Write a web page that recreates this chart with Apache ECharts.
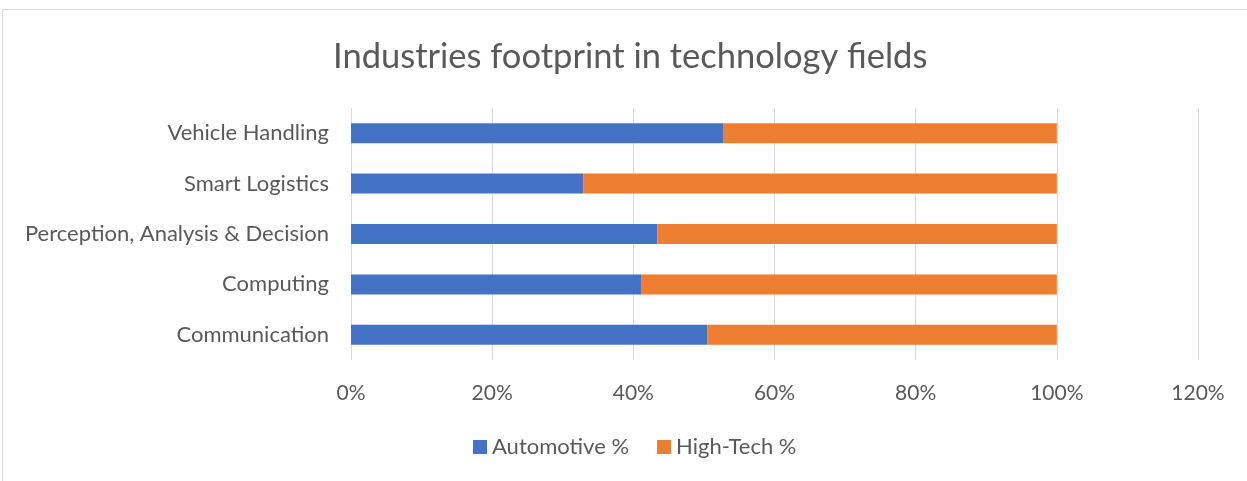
<!DOCTYPE html>
<html><head><meta charset="utf-8">
<script src="https://cdn.jsdelivr.net/npm/echarts@6/dist/echarts.min.js"></script>
<style>html,body{margin:0;padding:0;background:#fff}#c{width:1247px;height:481px}</style>
</head><body><div id="c"></div>
<script>
const categories = ['Communication', 'Computing', 'Perception, Analysis & Decision', 'Smart Logistics', 'Vehicle Handling'];
const automotive = [50.5, 41.1, 43.4, 32.9, 52.8];
const highTech = [49.5, 58.9, 56.6, 67.1, 47.2];
const seriesNames = ['Automotive %', 'High-Tech %'];
const FONT = 'Lato';
const chart = echarts.init(document.getElementById('c'));
chart.setOption({
  animation: false,
  backgroundColor: '#fff',
  graphic: [{type: 'rect', shape: {x: 2.5, y: 9.5, width: 1300, height: 480}, style: {fill: 'none', stroke: '#d9d9d9', lineWidth: 1}, silent: true}],
  title: {text: 'Industries footprint in technology fields', left: 328, top: 34,
    textStyle: {fontFamily: FONT, fontSize: 34.5, fontWeight: 'normal', color: '#595959'}},
  legend: {top: 431, left: 468, itemWidth: 14, itemHeight: 14, itemGap: 28, icon: 'rect',
    textStyle: {fontFamily: FONT, fontSize: 22, color: '#595959'}, data: seriesNames},
  grid: {left: 351, right: 49, top: 108, bottom: 121, containLabel: false},
  xAxis: {type: 'value', min: 0, max: 120, interval: 20,
    axisLine: {show: false}, axisTick: {show: false},
    splitLine: {lineStyle: {color: '#d9d9d9', width: 1}},
    axisLabel: {formatter: '{value}%', margin: 23, fontFamily: FONT, fontSize: 21, color: '#595959'}},
  yAxis: {type: 'category', data: categories,
    axisLine: {show: false}, axisTick: {show: false},
    axisLabel: {margin: 22, fontFamily: FONT, fontSize: 22, color: '#595959'}},
  series: [
    {name: seriesNames[0], type: 'bar', stack: 't', data: automotive, barWidth: 20,
      itemStyle: {color: '#4472C4'}},
    {name: seriesNames[1], type: 'bar', stack: 't', data: highTech, barWidth: 20,
      itemStyle: {color: '#ED7D31'}}
  ]
});
</script></body></html>
